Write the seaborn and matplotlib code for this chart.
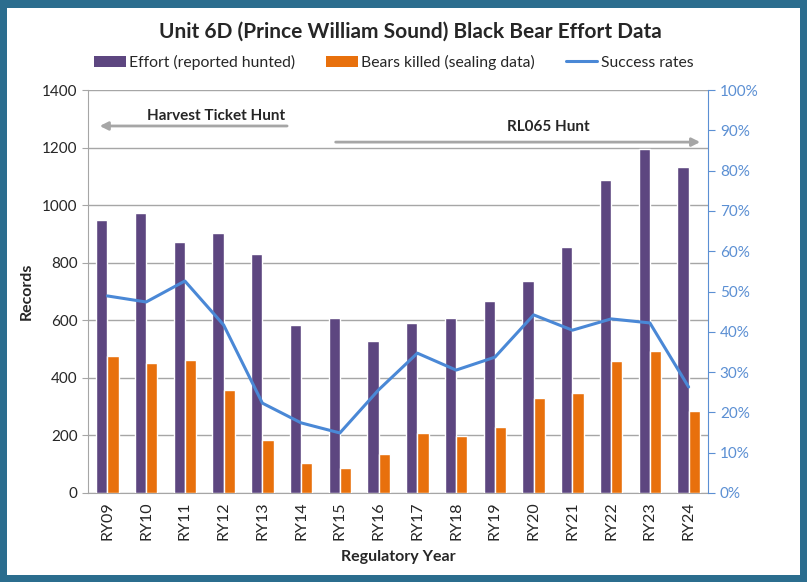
import numpy as np
import pandas as pd
import matplotlib
matplotlib.use("Agg")
import matplotlib.pyplot as plt
from matplotlib.patches import Patch, Rectangle
from matplotlib.lines import Line2D
from matplotlib.ticker import PercentFormatter
import seaborn as sns

# values
years = ["RY09", "RY10", "RY11", "RY12", "RY13", "RY14", "RY15", "RY16",
         "RY17", "RY18", "RY19", "RY20", "RY21", "RY22", "RY23", "RY24"]
effort = [950, 973, 872, 903, 830, 584, 608, 528,
          590, 608, 667, 736, 854, 1087, 1195, 1132]
killed = [476, 452, 462, 358, 184, 104, 87, 135,
          208, 198, 229, 330, 347, 458, 493, 285]
success = [48.9, 47.4, 52.6, 41.7, 22.3, 17.4, 14.9, 25.6,
           34.7, 30.5, 33.7, 44.2, 40.4, 43.2, 42.2, 26.3]

lab_effort = "Effort (reported hunted)"
lab_killed = "Bears killed (sealing data)"
lab_rate = "Success rates"

purple = "#5d4680"
orange = "#e8700c"
blue = "#4a88d6"
tickblue = "#5b8fd3"
grey = "#a6a6a6"

sns.set_style("white")
plt.rcParams["font.family"] = ["Lato", "DejaVu Sans"]

df = pd.DataFrame({
    "year": years * 2,
    "series": [lab_effort] * len(years) + [lab_killed] * len(years),
    "value": effort + killed,
})

fig = plt.figure(figsize=(8.07, 5.82), dpi=100)
fig.patch.set_facecolor("#2b6d8e")
fig.add_artist(Rectangle((7 / 807, 7 / 582), 793 / 807, 567 / 582,
                         transform=fig.transFigure, facecolor="white",
                         edgecolor="none", zorder=0))

ax = fig.add_axes([88 / 807, 1 - 493 / 582, 620 / 807, 403 / 582])
ax.set_facecolor("none")
sns.barplot(data=df, x="year", y="value", hue="series", order=years,
            palette=[purple, orange], width=0.58, saturation=1,
            legend=False, ax=ax, zorder=3)

ax.set_ylim(0, 1400)
ax.set_yticks(range(0, 1401, 200))
ax.set_xlim(-0.5, len(years) - 0.5)
ax.yaxis.grid(True, color=grey, linewidth=1, zorder=0)
ax.set_axisbelow(True)
for s in ["top", "right"]:
    ax.spines[s].set_visible(False)
for s in ["left", "bottom"]:
    ax.spines[s].set_color(grey)
ax.set_xticks(np.arange(len(years)))
ax.set_xticklabels(years, rotation=90)
ax.set_xticks(np.arange(-0.5, len(years)), minor=True)
ax.tick_params(axis="x", which="major", length=0, labelsize=11.5, pad=6)
ax.tick_params(axis="x", which="minor", length=5, color=grey, direction="out")
ax.tick_params(axis="y", length=4, color=grey, labelsize=11)
ax.set_xlabel("Regulatory Year", fontsize=11.5, fontweight="bold", labelpad=7)
ax.set_ylabel("Records", fontsize=11.5, fontweight="bold", labelpad=6)

ax2 = ax.twinx()
sns.pointplot(x=years, y=success, ax=ax2, color=blue, marker="",
              linewidth=2.2, errorbar=None)
ax2.set_xlim(-0.5, len(years) - 0.5)
ax2.set_ylim(0, 100)
ax2.set_yticks(range(0, 101, 10))
ax2.yaxis.set_major_formatter(PercentFormatter(decimals=0))
ax2.tick_params(axis="y", length=5, color=tickblue, labelcolor=tickblue,
                labelsize=11, direction="out")
for s in ["top", "left", "bottom"]:
    ax2.spines[s].set_visible(False)
ax2.spines["right"].set_color(tickblue)
ax2.set_ylabel("")

# hunt period arrows
ax.annotate("", xy=(-0.27, 1275), xytext=(4.71, 1275),
            arrowprops=dict(arrowstyle="-|>", color=grey, lw=2,
                            mutation_scale=12), zorder=5)
ax.text(2.8, 1310, "Harvest Ticket Hunt", ha="center", va="center",
        fontsize=11, fontweight="bold")
ax.annotate("", xy=(15.37, 1219), xytext=(5.82, 1219),
            arrowprops=dict(arrowstyle="-|>", color=grey, lw=2,
                            mutation_scale=12), zorder=5)
ax.text(11.37, 1271, "RL065 Hunt", ha="center", va="center",
        fontsize=11, fontweight="bold")

fig.text(0.508, 1 - 32 / 582, "Unit 6D (Prince William Sound) Black Bear Effort Data",
         ha="center", va="center", fontsize=15, fontweight="bold")

handles = [Patch(facecolor=purple, edgecolor="none"),
           Patch(facecolor=orange, edgecolor="none"),
           Line2D([], [], color=blue, linewidth=2.2)]
fig.legend(handles, [lab_effort, lab_killed, lab_rate], loc="center",
           bbox_to_anchor=(0.488, 1 - 62 / 582), ncol=3, frameon=False,
           fontsize=11.3, handlelength=2, handletextpad=0.2, columnspacing=2.0)

fig.savefig("out.png", dpi=100, facecolor=fig.get_facecolor())
